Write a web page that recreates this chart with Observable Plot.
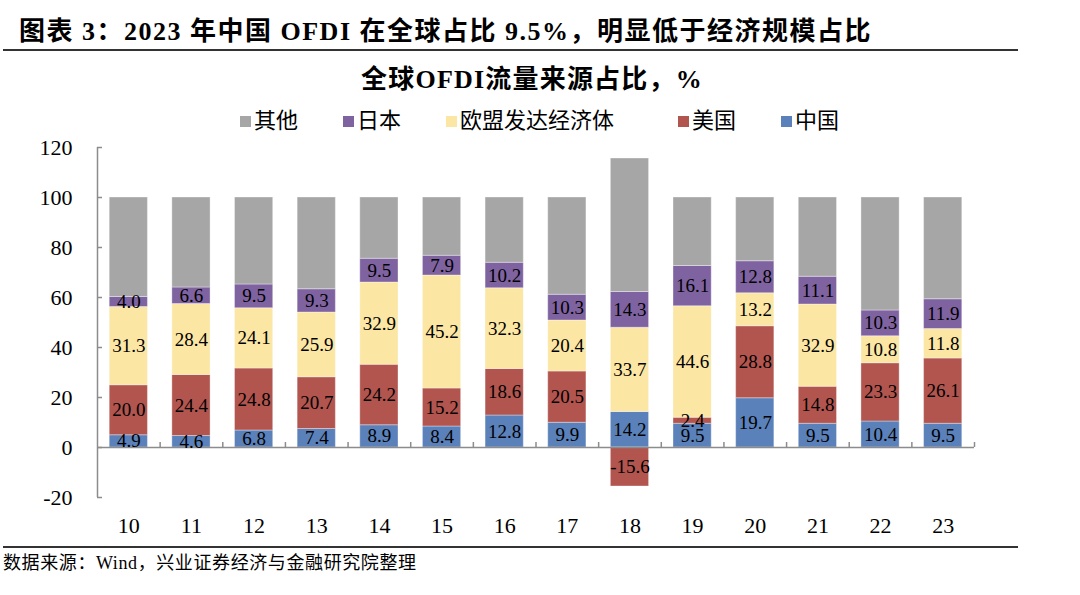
<!DOCTYPE html>
<html><head><meta charset="utf-8">
<script src="https://cdn.jsdelivr.net/npm/d3@7"></script>
<script src="https://cdn.jsdelivr.net/npm/@observablehq/plot@0.6"></script>
<style>
body{margin:0;background:#fff;width:1080px;height:595px;position:relative;overflow:hidden;font-family:"Liberation Serif","Noto Sans CJK SC",serif;color:#000;}
#title{position:absolute;left:19px;top:10px;font-size:26px;font-weight:bold;white-space:nowrap;letter-spacing:1.5px;}
#rule1{position:absolute;left:3px;top:49px;width:1015px;height:2px;background:#333;}
#subtitle{position:absolute;left:0;width:1064px;text-align:center;top:58px;font-size:26px;font-weight:bold;white-space:nowrap;letter-spacing:1.2px;}
.lg{position:absolute;top:105px;font-size:22px;white-space:nowrap;font-family:"Noto Sans CJK SC",sans-serif;line-height:26px;}
.lg i{display:inline-block;width:11px;height:11px;margin-right:3px;vertical-align:1px;}
#chart{position:absolute;left:0;top:130px;}
#rule2{position:absolute;left:3px;top:546px;width:1015px;height:2px;background:#333;}
#caption{position:absolute;left:3px;top:548px;font-size:18px;white-space:nowrap;letter-spacing:0.6px;}
</style></head>
<body>
<div id="title">图表 3：2023 年中国 OFDI 在全球占比 9.5%，明显低于经济规模占比</div>
<div id="rule1"></div>
<div id="subtitle">全球OFDI流量来源占比，%</div>
<div id="legend"></div>
<div id="chart"></div>
<div id="rule2"></div>
<div id="caption">数据来源：Wind，兴业证券经济与金融研究院整理</div>
<script>
const years = ["10","11","12","13","14","15","16","17","18","19","20","21","22","23"];
const china = [4.9,4.6,6.8,7.4,8.9,8.4,12.8,9.9,14.2,9.5,19.7,9.5,10.4,9.5];
const usa   = [20.0,24.4,24.8,20.7,24.2,15.2,18.6,20.5,-15.6,2.4,28.8,14.8,23.3,26.1];
const eu    = [31.3,28.4,24.1,25.9,32.9,45.2,32.3,20.4,33.7,44.6,13.2,32.9,10.8,11.8];
const japan = [4.0,6.6,9.5,9.3,9.5,7.9,10.2,10.3,14.3,16.1,12.8,11.1,10.3,11.9];
const other = [39.8,36.0,34.8,36.7,24.5,23.3,26.1,38.9,53.4,27.4,25.5,31.7,45.2,40.7];
const seriesNames = ["中国","美国","欧盟发达经济体","日本","其他"];
const seriesColors = ["#5B81BA","#B2554F","#FBE6A4","#7F63A1","#A6A6A6"];
const legendOrder = ["其他","日本","欧盟发达经济体","美国","中国"];
const yTicks = [-20,0,20,40,60,80,100,120];

const seriesValues = [china, usa, eu, japan, other];
const rows = [];
seriesNames.forEach((s, k) => years.forEach((yr, i) => rows.push({year: yr, series: s, value: seriesValues[k][i]})));

const W = 1080, H = 415, ML = 97, MR = 106, MT = 17, MB = 48;
const step = (W - ML - MR) / years.length;
const axisColor = "#8C8C8C";

const chart = Plot.plot({
  width: W, height: H,
  marginLeft: ML, marginRight: MR, marginTop: MT, marginBottom: MB,
  style: {fontFamily: '"Liberation Serif", serif', fontSize: "22px", color: "#000", background: "transparent"},
  x: {domain: years, paddingInner: 0.39, paddingOuter: 0.195, round: false, label: null},
  y: {domain: [-20, 120], label: null},
  color: {domain: seriesNames, range: seriesColors},
  marks: [
    Plot.barY(rows, {x: "year", y: "value", fill: "series", stroke: "#ffffff", strokeOpacity: 0.35, strokeWidth: 1}),
    Plot.ruleY([0], {stroke: axisColor, strokeWidth: 1.5}),
    Plot.ruleX([years[0]], {dx: -step / 2, y1: yTicks[0], y2: yTicks[yTicks.length - 1], stroke: axisColor, strokeWidth: 1.5}),
    Plot.ruleX(years, {dx: step / 2, y1: 0, y2: 2, stroke: axisColor, strokeWidth: 1.5}),
    Plot.axisY({ticks: yTicks, tickSize: -5, tickPadding: 30, stroke: axisColor, strokeWidth: 1.5, tickFormat: d => String(d), fontSize: 22, fill: "#000"}),
    Plot.axisX({tickSize: 0, tickPadding: 20, fontSize: 22, fill: "#000"}),
    Plot.text(rows, Plot.stackY({x: "year", y: "value", z: "series",
      text: d => d.series === "其他" ? null : d.value.toFixed(1),
      fill: "#000", fontSize: 19, fontFamily: '"Liberation Serif", serif'}))
  ]
});
document.getElementById("chart").appendChild(chart);

const legendX = {"其他": 240, "日本": 343, "欧盟发达经济体": 446, "美国": 678, "中国": 781};
const lg = document.getElementById("legend");
legendOrder.forEach(s => {
  const d = document.createElement("div");
  d.className = "lg";
  d.style.left = legendX[s] + "px";
  d.innerHTML = `<i style="background:${seriesColors[seriesNames.indexOf(s)]}"></i>${s}`;
  lg.appendChild(d);
});
</script>
</body></html>
